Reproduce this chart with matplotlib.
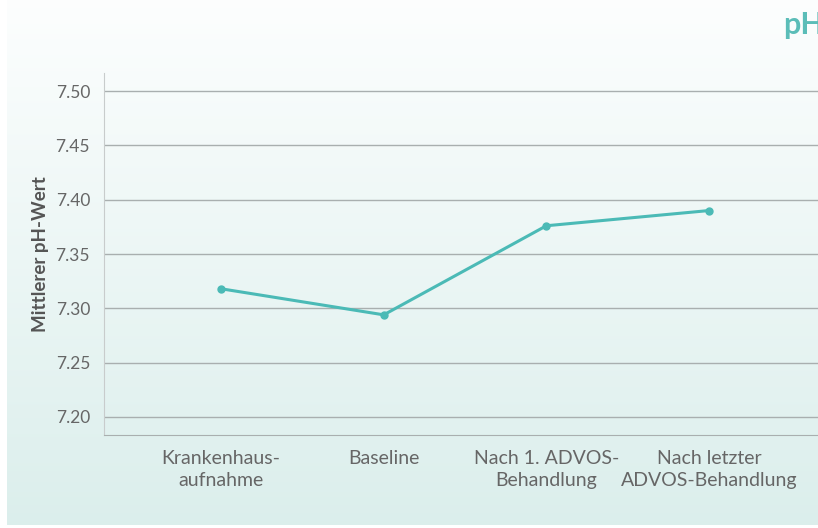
import numpy as np
import matplotlib.pyplot as plt

# data
categories = ['Krankenhaus-\naufnahme', 'Baseline', 'Nach 1. ADVOS-\nBehandlung', 'Nach letzter\nADVOS-Behandlung']
ph_values = [7.318, 7.294, 7.376, 7.390]
yticks = [7.20, 7.25, 7.30, 7.35, 7.40, 7.45, 7.50]

teal = '#4bbab6'
plt.rcParams['font.family'] = ['Lato', 'DejaVu Sans']

fig = plt.figure(figsize=(8.18, 5.28), dpi=100)

# background panel with vertical gradient
bg = fig.add_axes([7/818, 3/528, 811/818, 525/528])
grad = np.linspace(0, 1, 256).reshape(-1, 1)
top = np.array([0.99, 0.996, 0.996])
bot = np.array([0.86, 0.935, 0.925])
img = top + (bot - top) * grad[:, :, None]
bg.imshow(img, aspect='auto', extent=[0, 1, 0, 1])
bg.axis('off')

ax = fig.add_axes([104/818, (528-435)/528, (818-104)/818, (435-73)/528])
ax.patch.set_alpha(0)
x = np.arange(len(categories))
ax.plot(x, ph_values, color=teal, lw=2.2, marker='o', ms=5, zorder=3)

ax.set_xlim(-0.72, 3.67)
ax.set_ylim(7.1834, 7.5166)
ax.set_yticks(yticks)
ax.set_yticklabels([f'{v:.2f}' for v in yticks])
ax.set_xticks(x)
ax.set_xticklabels(categories, linespacing=1.35)
ax.grid(axis='y', color='#a9afaf', lw=1)
ax.set_axisbelow(True)
ax.tick_params(length=0, labelsize=12.5, colors='#666666', pad=10)
ax.tick_params(axis='x', pad=11, labelsize=14)
for s in ['top', 'right']:
    ax.spines[s].set_visible(False)
ax.spines['left'].set_color('#c8cccc')
ax.spines['bottom'].set_color('#a9afaf')
ax.set_ylabel('Mittlerer pH-Wert', fontsize=13.5, fontweight='bold', color='#555555', labelpad=5)

fig.text(783/818, 1 - 25/528, 'pH', color='#5bbdb8', fontsize=22, fontweight='bold', va='center', ha='left')

fig.savefig('out.png', dpi=100)
